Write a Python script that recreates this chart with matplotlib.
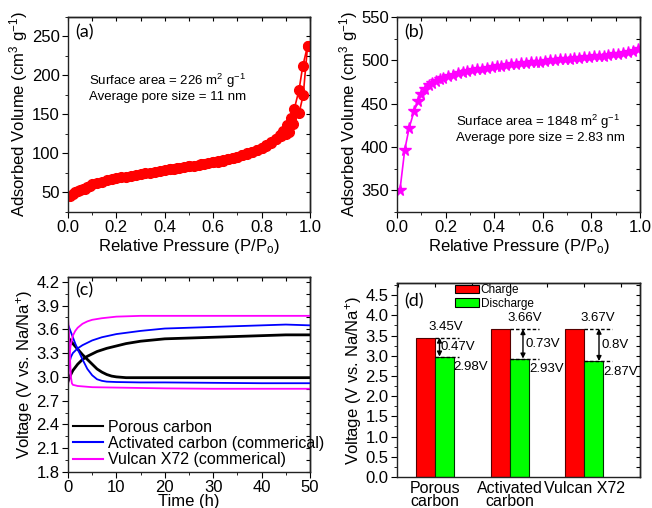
import numpy as np
import matplotlib
matplotlib.use("Agg")
import matplotlib.pyplot as plt
from matplotlib.ticker import MultipleLocator
from matplotlib.patches import Patch

plt.rcParams['font.family'] = ['Liberation Sans', 'DejaVu Sans']
plt.rcParams['mathtext.fontset'] = 'custom'
plt.rcParams['mathtext.rm'] = 'Liberation Sans'
plt.rcParams['mathtext.it'] = 'Liberation Sans:italic'
plt.rcParams['axes.linewidth'] = 1.0

# ---------------- data ----------------
# (a) porous carbon N2 isotherm
a_ads_p = [0.01, 0.02, 0.03, 0.04, 0.05, 0.06, 0.07, 0.08, 0.09, 0.10, 0.12, 0.14, 0.16, 0.18,
           0.20, 0.22, 0.24, 0.26, 0.28, 0.30, 0.32, 0.34, 0.36, 0.38, 0.40, 0.42, 0.44, 0.46,
           0.48, 0.50, 0.52, 0.54, 0.56, 0.58, 0.60, 0.62, 0.64, 0.66, 0.68, 0.70, 0.72, 0.74,
           0.76, 0.78, 0.80, 0.82, 0.84, 0.86, 0.88, 0.90, 0.915, 0.93, 0.955, 0.972, 0.99]
a_ads_v = [45, 48, 50, 51.5, 53, 54, 55, 56.5, 58, 61, 62.5, 64, 65.5, 67,
           68.5, 69.5, 70.5, 71.5, 72.5, 73.5, 74.5, 75.5, 76.5, 77.5, 78.5, 79.5, 80.5, 81.5,
           82.5, 83.5, 84.5, 85.5, 86.5, 87.5, 88.5, 89.5, 91, 92.5, 94, 95.5, 97.5, 99.5,
           101.5, 104, 107, 110, 114, 118, 122, 125, 128, 138, 152, 175, 238]
a_des_p = [0.99, 0.97, 0.955, 0.935, 0.922, 0.905, 0.89, 0.875, 0.86, 0.84, 0.82, 0.80, 0.78,
           0.76, 0.74, 0.72, 0.70, 0.68, 0.66, 0.64, 0.62, 0.60, 0.55, 0.50, 0.45, 0.42]
a_des_v = [238, 212, 182, 157, 146, 136, 129, 124, 119, 114.5, 110.5, 107.5, 104.5,
           102, 100, 98, 96, 94.5, 93, 91.5, 90, 89, 86.5, 84, 81.5, 80]

# (b) activated carbon isotherm
b_p = [0.012, 0.032, 0.05, 0.071, 0.088, 0.10, 0.115, 0.13, 0.145, 0.16, 0.175, 0.19, 0.21,
       0.23, 0.25, 0.27, 0.29, 0.31, 0.33, 0.35, 0.37, 0.39, 0.41, 0.43, 0.45, 0.47, 0.49,
       0.51, 0.53, 0.55, 0.57, 0.59, 0.61, 0.63, 0.65, 0.67, 0.69, 0.71, 0.73, 0.75, 0.77,
       0.79, 0.81, 0.83, 0.85, 0.87, 0.89, 0.91, 0.93, 0.95, 0.97, 0.99]
b_v = [350, 397, 422, 442, 453, 461, 467, 471, 474, 476.5, 478.5, 480, 482,
       483.5, 485, 486.5, 487.5, 488.5, 489.5, 490.5, 491.5, 492.5, 493, 494, 494.5, 495.5, 496,
       496.5, 497, 497.5, 498, 498.5, 499.5, 500, 500.5, 501, 501.5, 502, 502.5, 503, 503.5,
       504, 504.5, 505, 505.5, 506, 507, 507.5, 508.5, 509.5, 510.5, 512.5]

# (c) voltage vs time
c_labels = ['Porous carbon', 'Activated carbon (commerical)', 'Vulcan X72 (commerical)']
pc_ch_t = [0, 0.5, 1, 2, 3, 4, 5, 6, 8, 10, 12, 15, 20, 25, 30, 35, 40, 45, 50]
pc_ch_v = [2.94, 3.02, 3.08, 3.16, 3.22, 3.26, 3.29, 3.32, 3.36, 3.39, 3.42, 3.45, 3.48,
           3.49, 3.50, 3.51, 3.52, 3.53, 3.53]
pc_dis_t = [0, 0.5, 1, 2, 3, 4, 5, 6, 7, 8, 9, 10, 12, 15, 20, 30, 40, 50]
pc_dis_v = [3.50, 3.46, 3.42, 3.35, 3.28, 3.22, 3.16, 3.10, 3.06, 3.03, 3.01, 3.00, 2.99,
            2.99, 2.99, 2.99, 2.99, 2.99]
ac_ch_t = [0, 0.3, 0.6, 1, 2, 3, 4, 5, 7, 10, 15, 20, 25, 30, 35, 40, 45, 50]
ac_ch_v = [3.05, 3.18, 3.25, 3.30, 3.36, 3.40, 3.43, 3.46, 3.50, 3.54, 3.58, 3.61, 3.62,
           3.63, 3.64, 3.65, 3.66, 3.65]
ac_dis_t = [0, 0.5, 1, 1.5, 2, 3, 4, 5, 6, 7, 8, 10, 15, 20, 30, 40, 50]
ac_dis_v = [3.66, 3.58, 3.50, 3.42, 3.35, 3.22, 3.10, 3.02, 2.97, 2.95, 2.94, 2.935, 2.93,
            2.93, 2.925, 2.92, 2.92]
vx_ch_t = [0, 0.2, 0.5, 1, 1.5, 2, 3, 4, 5, 7, 10, 15, 20, 30, 40, 50]
vx_ch_v = [2.85, 3.15, 3.38, 3.52, 3.58, 3.62, 3.67, 3.70, 3.72, 3.74, 3.76, 3.77, 3.77,
           3.77, 3.77, 3.77]
vx_dis_t = [0, 0.2, 0.4, 0.6, 0.8, 1, 2, 3, 5, 10, 20, 30, 40, 50]
vx_dis_v = [3.75, 3.55, 3.25, 3.00, 2.92, 2.90, 2.885, 2.88, 2.87, 2.865, 2.855, 2.85, 2.85, 2.85]

# (d) bars
d_categories = ['Porous\ncarbon', 'Activated\ncarbon', 'Vulcan X72']
d_charge = [3.45, 3.66, 3.67]
d_discharge = [2.98, 2.93, 2.87]
d_charge_lbl = ['3.45V', '3.66V', '3.67V']
d_discharge_lbl = ['2.98V', '2.93V', '2.87V']
d_gap_lbl = ['0.47V', '0.73V', '0.8V']

# ---------------- figure ----------------
fig = plt.figure(figsize=(6.52, 5.08), dpi=100)
W, H = 652, 508


def make_ax(l, t, r, b):
    return fig.add_axes([l / W, 1 - b / H, (r - l) / W, (b - t) / H])


def style(ax, xmaj, xmin, ymaj, ymin, top_minor=None):
    ax.xaxis.set_major_locator(MultipleLocator(xmaj))
    ax.xaxis.set_minor_locator(MultipleLocator(xmin))
    ax.yaxis.set_major_locator(MultipleLocator(ymaj))
    ax.yaxis.set_minor_locator(MultipleLocator(ymin))
    ax.tick_params(which='both', direction='out', labelsize=12, pad=2)
    ax.tick_params(which='major', length=4)
    ax.tick_params(which='minor', length=2.5)
    sx = ax.secondary_xaxis('top')
    sx.xaxis.set_major_locator(MultipleLocator(top_minor if top_minor else xmin))
    sx.tick_params(direction='in', length=3, labeltop=False)
    sy = ax.secondary_yaxis('right')
    sy.yaxis.set_major_locator(MultipleLocator(ymin))
    sy.tick_params(direction='in', length=3, labelright=False)
    for s in ax.spines.values():
        s.set_color('#222222')


# (a)
ax = make_ax(68, 17, 310, 212)
ax.plot(a_ads_p, a_ads_v, '-o', color='#ff0000', ms=7, lw=1.2)
ax.plot(a_des_p, a_des_v, '-o', color='#ff0000', ms=7, lw=1.2)
ax.set_xlim(0, 1.0)
ax.set_ylim(25, 275)
style(ax, 0.2, 0.1, 50, 25)
ax.set_xlabel('Relative Pressure (P/P$_\\mathrm{o}$)', fontsize=12, labelpad=1)
ax.set_ylabel('Adsorbed Volume (cm$^3$ g$^{-1}$)', fontsize=12, labelpad=1)
ax.text(0.03, 0.92, '(a)', transform=ax.transAxes, fontsize=13, family='Lato', va='center')
ax.text(0.088, 0.64, 'Surface area = 226 m$^2$ g$^{-1}$\nAverage pore size = 11 nm',
        transform=ax.transAxes, fontsize=9.5, va='center', linespacing=1.15)

# (b)
ax = make_ax(397, 17, 640, 212)
ax.plot(b_p, b_v, '-*', color='#ff00ff', ms=8.5, lw=1.2)
ax.set_xlim(0, 1.0)
ax.set_ylim(325, 550)
style(ax, 0.2, 0.1, 50, 25)
ax.set_xlabel('Relative Pressure (P/P$_\\mathrm{o}$)', fontsize=12, labelpad=1)
ax.set_ylabel('Adsorbed Volume (cm$^3$ g$^{-1}$)', fontsize=12, labelpad=1)
ax.text(0.03, 0.92, '(b)', transform=ax.transAxes, fontsize=13, family='Lato', va='center')
ax.text(0.243, 0.43, 'Surface area = 1848 m$^2$ g$^{-1}$\nAverage pore size = 2.83 nm',
        transform=ax.transAxes, fontsize=9.5, va='center', linespacing=1.15)

# (c)
ax = make_ax(68, 277, 310, 472)
l1, = ax.plot(pc_ch_t, pc_ch_v, color='black', lw=2.0)
ax.plot(pc_dis_t, pc_dis_v, color='black', lw=2.0)
l2, = ax.plot(ac_ch_t, ac_ch_v, color='#0000ff', lw=1.3)
ax.plot(ac_dis_t, ac_dis_v, color='#0000ff', lw=1.3)
l3, = ax.plot(vx_ch_t, vx_ch_v, color='#ff00ff', lw=1.3)
ax.plot(vx_dis_t, vx_dis_v, color='#ff00ff', lw=1.3)
ax.set_xlim(0, 50)
ax.set_ylim(1.8, 4.26)
style(ax, 10, 5, 0.3, 0.15)
ax.set_xlabel('Time (h)', fontsize=12, labelpad=-1)
ax.set_ylabel('Voltage (V vs. Na/Na$^{+}$)', fontsize=12, labelpad=1)
ax.text(0.03, 0.93, '(c)', transform=ax.transAxes, fontsize=13, family='Lato', va='center')
leg = ax.legend([l1, l2, l3], c_labels, loc='lower left', frameon=False, fontsize=11.5,
                handlelength=1.9, labelspacing=0.08, borderaxespad=0.0, handletextpad=0.3,
                borderpad=0.3, bbox_to_anchor=(0.0, 0.0))
for h in leg.get_lines():
    h.set_linewidth(1.5)

# (d)
ax = make_ax(397, 283, 640, 477)
x = np.arange(len(d_categories))
w = 0.255
ax.bar(x - w / 2, d_charge, w, color='#ff0000', edgecolor='#550000', lw=0.8, label='Charge')
ax.bar(x + w / 2, d_discharge, w, color='#00ff00', edgecolor='#003300', lw=0.8, label='Discharge')
ax.set_xlim(-0.51, 2.75)
ax.set_ylim(0, 4.8)
style(ax, 1, 0.5, 0.5, 0.25, top_minor=0.5)
ax.set_xticks(x)
ax.set_xticklabels(d_categories, fontsize=11.5, linespacing=0.85)
ax.tick_params(axis='x', which='both', length=0, pad=3)
ax.set_ylabel('Voltage (V vs. Na/Na$^{+}$)', fontsize=12, labelpad=1)
ax.text(0.03, 0.905, '(d)', transform=ax.transAxes, fontsize=13, family='Lato', va='center')

ch_off = [0.15, 0.20, 0.19]
gap_off = [0.08, 0.21, 0.23]
dis_off = [0.255, 0.275, 0.27]
arr_off = [0.06, 0.18, 0.20]
dash_end = [0.32, 0.39, 0.38]
for i in range(len(d_categories)):
    c, d = d_charge[i], d_discharge[i]
    ax.plot([x[i], x[i] + dash_end[i]], [c, c], ls=(0, (2.5, 1.5)), color='black', lw=1.0)
    ax.plot([x[i], x[i] + dash_end[i]], [d, d], ls=(0, (2.5, 1.5)), color='black', lw=1.0)
    ax.annotate('', xy=(x[i] + arr_off[i], c), xytext=(x[i] + arr_off[i], d),
                arrowprops=dict(arrowstyle='<|-|>', color='black', lw=1.0,
                                mutation_scale=7, shrinkA=0, shrinkB=0))
    ax.text(x[i] + ch_off[i], c + 0.27, d_charge_lbl[i], ha='center', va='center', fontsize=9.5)
    ax.text(x[i] + gap_off[i], (c + d) / 2, d_gap_lbl[i], ha='left', va='center', fontsize=9.5)
    ax.text(x[i] + dis_off[i] - 0.01, d - 0.26, d_discharge_lbl[i], ha='left', va='center',
            fontsize=9.5)

ax.legend(handles=[Patch(facecolor='#ff0000', edgecolor='black', lw=0.8, label='Charge'),
                   Patch(facecolor='#00ff00', edgecolor='black', lw=0.8, label='Discharge')],
          loc='upper left', bbox_to_anchor=(0.235, 1.0), frameon=False, fontsize=8.5,
          handlelength=2.0, handleheight=0.72, labelspacing=0.12, handletextpad=0.15,
          borderaxespad=0.0, borderpad=0.1)

fig.savefig('out.png', dpi=100)
